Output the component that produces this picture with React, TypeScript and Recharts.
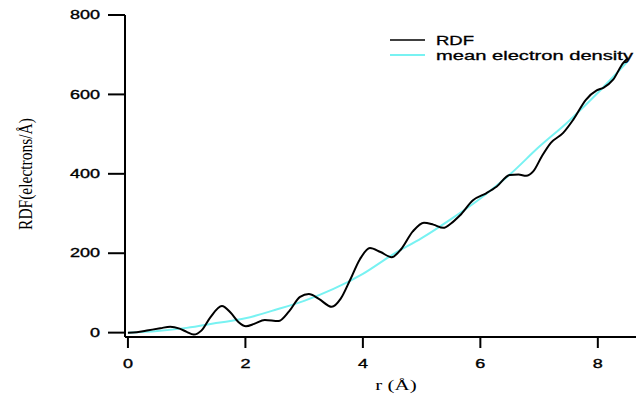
import { LineChart, Line, XAxis, YAxis, Legend } from 'recharts'

// r (Å) and RDF values
const rdfR = [
  0, 0.15, 0.35, 0.55, 0.72, 0.88, 1.0, 1.12, 1.25, 1.4, 1.6, 1.75, 1.88, 2.01, 2.15, 2.33,
  2.56, 2.75, 2.93, 3.08, 3.25, 3.47, 3.62, 3.78, 3.95, 4.12, 4.3, 4.49, 4.65, 4.85, 5.04,
  5.2, 5.37, 5.5, 5.65, 5.88, 6.1, 6.28, 6.5, 6.65, 6.78, 6.9, 7.05, 7.2, 7.41, 7.58, 7.8,
  7.98, 8.1, 8.26, 8.43, 8.5,
]
const rdfValues = [
  0, 1, 6, 11, 15, 10, 2, -5, 5, 38, 67, 50, 27, 16, 22, 32,
  29, 55, 90, 97, 85, 65, 85, 132, 185, 213, 203, 190, 210, 255, 277,
  272, 264, 275, 295, 334, 351, 368, 397, 398, 395, 406, 445, 478, 503, 536, 587,
  610, 617, 637, 679, 690,
]

const densityR = [0, 0.5, 1, 1.5, 2, 2.5, 3, 3.5, 4, 4.5, 5, 5.5, 6, 6.5, 7, 7.5, 8, 8.5]
const densityValues = [0, 4, 12, 24, 36, 57, 80, 110, 148, 196, 238, 286, 338, 398, 468, 532, 604, 682]

const xTicks = [0, 2, 4, 6, 8]
const yTicks = [0, 200, 400, 600, 800]

const rdfData = rdfR.map((r, i) => ({ r, value: rdfValues[i] }))
const densityData = densityR.map((r, i) => ({ r, value: densityValues[i] }))

const SANS = '"Liberation Sans", Arial, sans-serif'
const SERIF = '"Liberation Serif", "Times New Roman", serif'
const SX = 1.5
const CYAN = '#78f2f2'

function XTick({ x, y, payload }: any) {
  return (
    <text
      transform={`translate(${x},${y}) scale(${SX},1)`}
      textAnchor="middle"
      dy="0.71em"
      fontFamily={SANS}
      fontSize={12}
      fill="#000"
      stroke="#000"
      strokeWidth={0.35}
    >
      {payload.value}
    </text>
  )
}

function YTick({ x, y, payload }: any) {
  return (
    <text
      transform={`translate(${x},${y}) scale(${SX},1)`}
      textAnchor="end"
      dy="0.35em"
      fontFamily={SANS}
      fontSize={12}
      fill="#000"
      stroke="#000"
      strokeWidth={0.35}
    >
      {payload.value}
    </text>
  )
}

function LegendBox() {
  return (
    <svg width={251} height={40} style={{ display: 'block' }}>
      <line x1={5} x2={40} y1={12} y2={12} stroke="#000" strokeWidth={1.5} />
      <text x={51} y={17} fontFamily={SANS} fontSize={13} stroke="#000" strokeWidth={0.3}
        textLength={38} lengthAdjust="spacingAndGlyphs">
        RDF
      </text>
      <line x1={5} x2={40} y1={27} y2={27} stroke={CYAN} strokeWidth={2} />
      <text x={51} y={32} fontFamily={SANS} fontSize={13} stroke="#000" strokeWidth={0.3}
        textLength={197} lengthAdjust="spacingAndGlyphs">
        mean electron density
      </text>
    </svg>
  )
}

export default function App() {
  return (
    <div style={{ position: 'absolute', left: 0, top: 0, width: 636, height: 397, background: '#fff' }}>
      <LineChart width={636} height={397} margin={{ top: 15, right: 0, bottom: 0, left: 0 }}>
        <XAxis
          dataKey="r"
          type="number"
          domain={[-0.05, 8.65]}
          ticks={xTicks}
          allowDataOverflow
          height={60}
          tickSize={11}
          tickMargin={11}
          tick={<XTick />}
          axisLine={{ stroke: '#000', strokeWidth: 2 }}
          tickLine={{ stroke: '#000', strokeWidth: 2 }}
          label={{
            content: () => (
              <text transform="translate(396,390) scale(1.4,1)" textAnchor="middle" fontFamily={SERIF} fontSize={15} fill="#000">
                r (Å)
              </text>
            ),
          }}
        />
        <YAxis
          type="number"
          domain={[-11, 800]}
          ticks={yTicks}
          allowDataOverflow
          width={125}
          tickSize={17}
          tickMargin={8}
          tick={<YTick />}
          axisLine={{ stroke: '#000', strokeWidth: 2 }}
          tickLine={{ stroke: '#000', strokeWidth: 2 }}
          label={{
            content: () => (
              <text transform="translate(32,174) scale(1.2,1) rotate(-90)" textAnchor="middle" fontFamily={SERIF} fontSize={15.5} fill="#000">
                RDF(electrons/Å)
              </text>
            ),
          }}
        />
        <Legend
          layout="horizontal"
          align="center"
          verticalAlign="middle"
          content={() => <LegendBox />}
          wrapperStyle={{ position: 'absolute', left: 385, top: 28, width: 251, height: 40 }}
        />
        <Line
          data={densityData}
          dataKey="value"
          name="mean electron density"
          type="monotone"
          stroke={CYAN}
          strokeWidth={2}
          dot={false}
          activeDot={false}
          isAnimationActive={false}
        />
        <Line
          data={rdfData}
          dataKey="value"
          name="RDF"
          type="monotone"
          stroke="#000"
          strokeWidth={2}
          dot={false}
          activeDot={false}
          isAnimationActive={false}
        />
      </LineChart>
    </div>
  )
}
